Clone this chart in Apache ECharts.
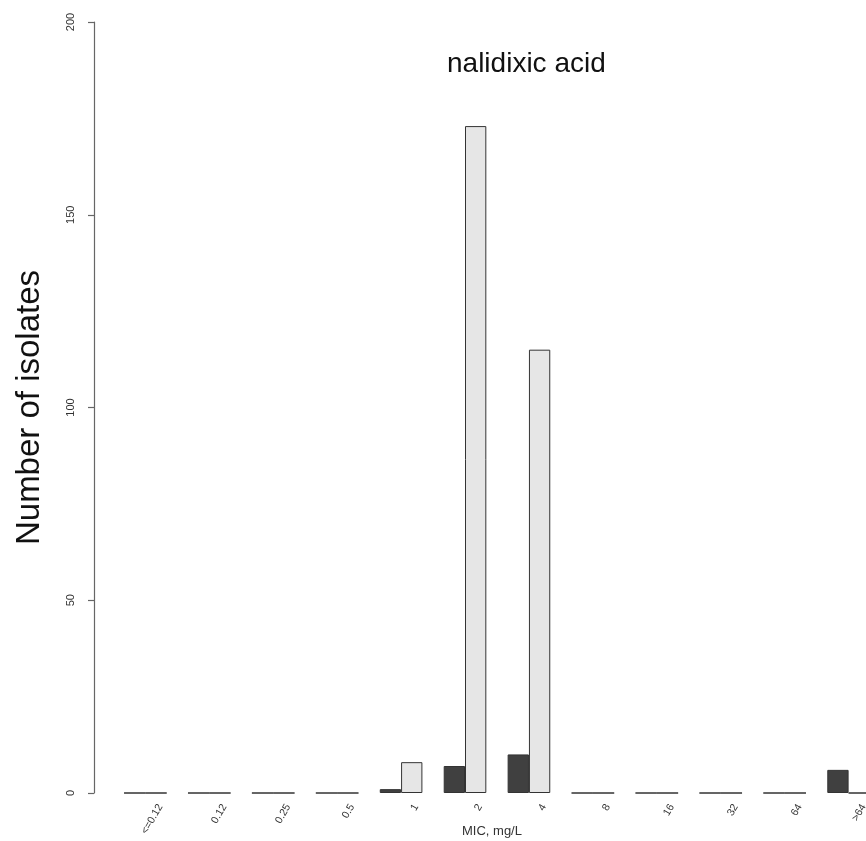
<!DOCTYPE html>
<html>
<head>
<meta charset="utf-8">
<script src="https://cdn.jsdelivr.net/npm/echarts@6/dist/echarts.min.js"></script>
<style>html,body{margin:0;padding:0;background:#fff;overflow:hidden;width:866px;height:841px;}#c{width:900px;height:841px;}</style>
</head>
<body>
<div id="c"></div>
<script>
const categories = ['<=0.12','0.12','0.25','0.5','1','2','4','8','16','32','64','>64'];
const seriesDark = [0,0,0,0,1,7,10,0,0,0,0,6];
const seriesLight = [0,0,0,0,8,173,115,0,0,0,0,0];
const yTicks = {min:0, max:200, interval:50};
const titleText = 'nalidixic acid';
const xName = 'MIC, mg/L';
const yName = 'Number of isolates';

const FONT = "'Liberation Sans', Arial, sans-serif";
const pitch = 63.93;
const gridLeft = 113.4;
const chart = echarts.init(document.getElementById('c'), null, {renderer:'canvas'});
chart.setOption({
  animation: false,
  backgroundColor: '#fff',
  textStyle: {fontFamily: FONT},
  grid: [
    {left: gridLeft, top: 22, width: pitch*categories.length, height: 771},
    {left: gridLeft + 15, top: 22, width: pitch*categories.length, height: 771}
  ],
  xAxis: [
    {type:'category', gridIndex:0, data:categories, axisLine:{show:false}, axisTick:{show:false}, axisLabel:{show:false}, splitLine:{show:false}},
    {type:'category', gridIndex:1, data:categories, axisLine:{show:false}, axisTick:{show:false}, splitLine:{show:false},
     axisLabel:{show:true, rotate:60, margin:12, fontSize:10.5, color:'#333', fontFamily:FONT, interval:0}}
  ],
  yAxis: [
    {type:'value', gridIndex:0, min:yTicks.min, max:yTicks.max, interval:yTicks.interval, offset:19.4,
     axisLine:{show:true, lineStyle:{color:'#666', width:1.2}},
     axisTick:{show:true, length:6, lineStyle:{color:'#666', width:1.2}},
     splitLine:{show:false},
     axisLabel:{rotate:90, margin:18, fontSize:11, color:'#333', fontFamily:FONT},
     name: yName, nameLocation:'middle', nameRotate:90, nameGap:48,
     nameTextStyle:{fontSize:33, color:'#111', fontFamily:FONT}},
    {type:'value', gridIndex:1, min:yTicks.min, max:yTicks.max, show:false}
  ],
  graphic: [
    {type:'text', left:447, top:50, style:{text:titleText, font:'28px ' + FONT, fill:'#111'}},
    {type:'text', left:462, top:825, style:{text:xName, font:'13px ' + FONT, fill:'#333'}}
  ],
  series: [
    {type:'bar', xAxisIndex:0, yAxisIndex:0, data:seriesDark, barWidth:pitch/3, barGap:'0%',
     itemStyle:{color:'#404040', borderColor:'#333', borderWidth:1}},
    {type:'bar', xAxisIndex:0, yAxisIndex:0, data:seriesLight, barWidth:pitch/3, barGap:'0%',
     itemStyle:{color:'#e6e6e6', borderColor:'#333', borderWidth:1}}
  ]
});
</script>
</body>
</html>
